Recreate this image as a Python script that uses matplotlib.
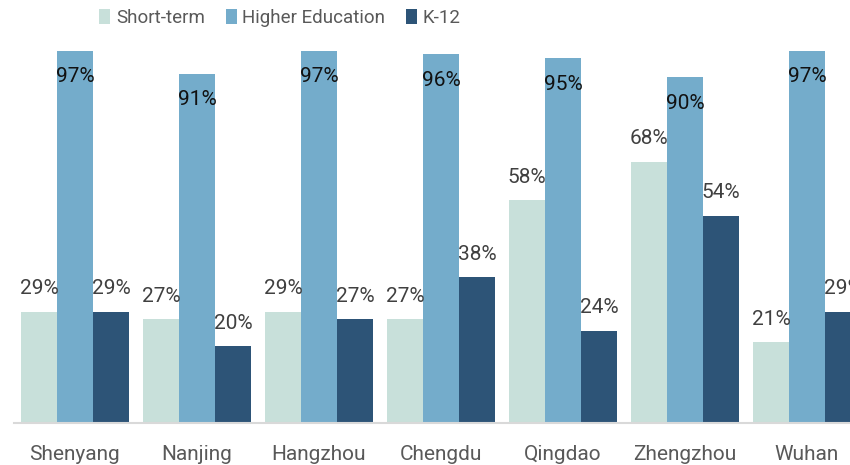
import numpy as np
import matplotlib.pyplot as plt

plt.rcParams['font.family'] = ['Roboto', 'DejaVu Sans']

cities = ["Shenyang", "Nanjing", "Hangzhou", "Chengdu", "Qingdao", "Zhengzhou", "Wuhan"]
short_term = [29, 27, 29, 27, 58, 68, 21]
higher_ed = [97, 91, 97, 96, 95, 90, 97]
k12 = [29, 20, 27, 38, 24, 54, 29]

series = ["Short-term", "Higher Education", "K-12"]
colors = ["#C8E0DA", "#74ACCB", "#2D5477"]

W, H = 850, 465
fig = plt.figure(figsize=(W / 100, H / 100), dpi=100)

# plot area: category band from x=14 to 868 px, baseline at y=423, 100% at y=39
x0, x1 = 14, 868
y0, y1 = 423, 39
ax = fig.add_axes([x0 / W, (H - y0) / H, (x1 - x0) / W, (y0 - y1) / H])

x = np.arange(len(cities))
bw = 36 / 122
vals = [short_term, higher_ed, k12]
for i, (name, v, c) in enumerate(zip(series, vals, colors)):
    pos = x + (i - 1) * bw
    ax.bar(pos, v, bw, color=c, label=name, clip_on=False)
    for xp, val in zip(pos, v):
        if i == 1:
            ax.annotate(f"{val}%", (xp, val), xytext=(0, -26), textcoords="offset pixels",
                        ha="center", va="center", fontsize=15, color="#111111",
                        annotation_clip=False)
        else:
            ax.annotate(f"{val}%", (xp, val), xytext=(0, 23), textcoords="offset pixels",
                        ha="center", va="center", fontsize=15, color="#404040",
                        annotation_clip=False)

ax.set_xlim(-0.5, len(cities) - 0.5)
ax.set_ylim(0, 100)
ax.set_xticks(x)
ax.set_xticklabels(cities, fontsize=15, color="#595959")
ax.tick_params(axis="x", length=0, pad=16)
ax.set_yticks([])
for s in ["top", "right", "left"]:
    ax.spines[s].set_visible(False)
ax.spines["bottom"].set_color("#D9D9D9")
ax.spines["bottom"].set_linewidth(1.5)

fig.legend(loc="center", bbox_to_anchor=(280 / W, 1 - 18 / H), ncol=3, frameon=False,
           fontsize=13.5, handlelength=0.6, handleheight=0.8, handletextpad=0.3,
           columnspacing=1.1, labelcolor="#595959")

fig.savefig("out.png", dpi=100)
